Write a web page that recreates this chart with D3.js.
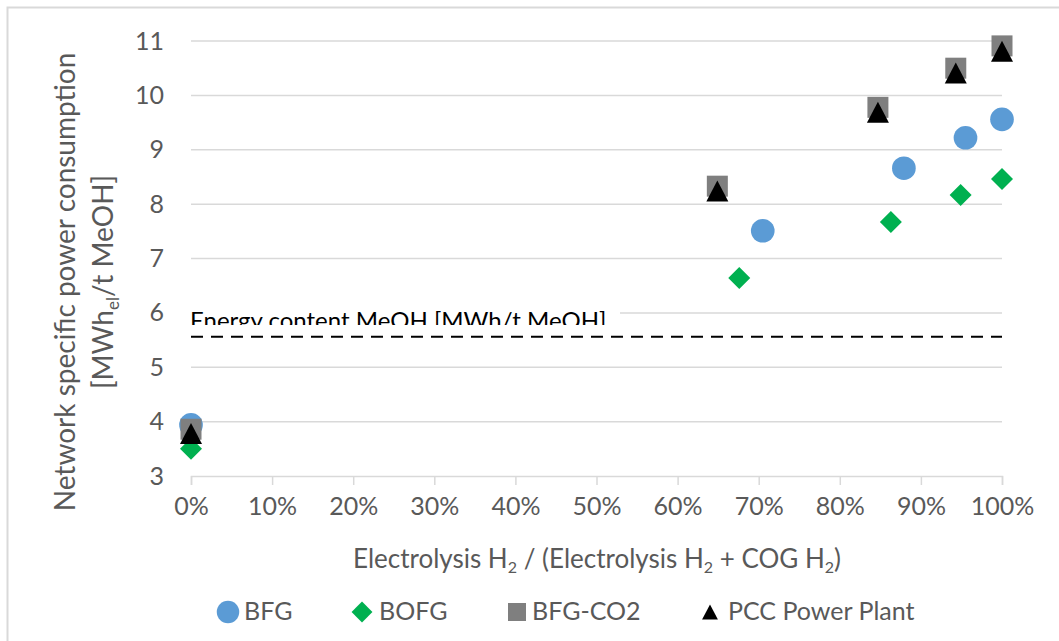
<!DOCTYPE html>
<html>
<head>
<meta charset="utf-8">
<script src="https://cdn.jsdelivr.net/npm/d3@7"></script>
<style>
  body { margin: 0; background: #fff; }
  svg { display: block; font-family: Lato, "Open Sans", sans-serif; }
</style>
</head>
<body>
<svg id="chart" width="1059" height="641"></svg>
<script>
// shares of electrolysis H2 (%), one array per series
var bfgX = [0, 70.5, 87.9, 95.5, 100];
var bfgY = [3.94, 7.51, 8.66, 9.22, 9.56];
var bofgX = [0, 67.6, 86.3, 94.9, 100];
var bofgY = [3.50, 6.64, 7.67, 8.17, 8.46];
var co2X = [0, 64.9, 84.7, 94.3, 100];
var co2Y = [3.86, 8.33, 9.78, 10.50, 10.91];
var pccX = [0, 64.9, 84.7, 94.3, 100];
var pccY = [3.78, 8.24, 9.69, 10.41, 10.81];
var energyContent = 5.56;
var xTicks = [0, 10, 20, 30, 40, 50, 60, 70, 80, 90, 100];
var yTicks = [3, 4, 5, 6, 7, 8, 9, 10, 11];

var svg = d3.select("#chart");

// outer frame (only top and left edges are in view)
svg.append("rect")
    .attr("x", 7.5).attr("y", 7.5)
    .attr("width", 1100).attr("height", 700)
    .attr("fill", "none")
    .attr("stroke", "#d9d9d9")
    .attr("stroke-width", 2);

var x = d3.scaleLinear().domain([0, 100]).range([191, 1002]);
var y = d3.scaleLinear().domain([3, 11]).range([476, 41]);

// gridlines
svg.append("g")
  .selectAll("line")
  .data(yTicks.slice(1))
  .enter().append("line")
    .attr("x1", x(0)).attr("x2", x(100))
    .attr("y1", function(d) { return y(d); })
    .attr("y2", function(d) { return y(d); })
    .attr("stroke", "#d9d9d9")
    .attr("stroke-width", 1.5);

// bottom axis
var xAxis = d3.axisBottom(x)
    .tickValues(xTicks)
    .tickSize(9)
    .tickPadding(12)
    .tickFormat(function(d) { return d + "%"; });
var gx = svg.append("g")
    .attr("transform", "translate(0," + y(3) + ")")
    .call(xAxis);
gx.select(".domain").attr("stroke", "#d9d9d9").attr("stroke-width", 1.5);
gx.selectAll(".tick line").attr("stroke", "#d9d9d9").attr("stroke-width", 1.5);
gx.selectAll(".tick text")
    .attr("fill", "#595959")
    .style("font-size", "25px")
    .style("font-family", "Lato");

// left axis, labels only
var yAxis = d3.axisLeft(y).tickValues(yTicks).tickSize(0).tickPadding(27);
var gy = svg.append("g")
    .attr("transform", "translate(" + x(0) + ",0)")
    .call(yAxis);
gy.select(".domain").remove();
gy.selectAll(".tick text")
    .attr("fill", "#595959")
    .style("font-size", "25px")
    .style("font-family", "Lato");

// energy content reference line + clipped text box
svg.append("rect")
    .attr("x", 188).attr("y", 300)
    .attr("width", 432).attr("height", 25)
    .attr("fill", "#fff");
svg.append("clipPath").attr("id", "lblclip")
  .append("rect")
    .attr("x", 188).attr("y", 295)
    .attr("width", 440).attr("height", 30);
svg.append("text")
    .attr("clip-path", "url(#lblclip)")
    .attr("x", 190).attr("y", 329)
    .attr("fill", "#000")
    .style("font-size", "24px")
    .text("Energy content MeOH [MWh/t MeOH]");
svg.append("line")
    .attr("x1", x(0)).attr("x2", x(100))
    .attr("y1", y(energyContent)).attr("y2", y(energyContent))
    .attr("stroke", "#000")
    .attr("stroke-width", 2)
    .attr("stroke-dasharray", "12,8");

// axis titles
var yt = svg.append("text")
    .attr("transform", "translate(75,282) rotate(-90)")
    .attr("text-anchor", "middle")
    .attr("fill", "#595959")
    .style("font-size", "28px");
yt.append("tspan").attr("x", 0).attr("y", 0).text("Network specific power consumption");
var yt2 = yt.append("tspan").attr("x", 0).attr("y", 38);
yt2.append("tspan").text("[MWh");
yt2.append("tspan").attr("dy", 6).style("font-size", "17px").text("el");
yt2.append("tspan").attr("dy", -6).text("/t MeOH]");

var xt = svg.append("text")
    .attr("x", 597).attr("y", 568)
    .attr("text-anchor", "middle")
    .attr("fill", "#595959")
    .style("font-size", "26px");
xt.append("tspan").text("Electrolysis H");
xt.append("tspan").attr("dy", 5).style("font-size", "16px").text("2");
xt.append("tspan").attr("dy", -5).text(" / (Electrolysis H");
xt.append("tspan").attr("dy", 5).style("font-size", "16px").text("2");
xt.append("tspan").attr("dy", -5).text(" + COG H");
xt.append("tspan").attr("dy", 5).style("font-size", "16px").text("2");
xt.append("tspan").attr("dy", -5).text(")");

// series
var series = [
  { name: "BFG", xs: bfgX, ys: bfgY, shape: d3.symbolCircle, size: 440, color: "#5b9bd5", lx: 228, tx: 244 },
  { name: "BOFG", xs: bofgX, ys: bofgY, shape: d3.symbolDiamond, size: 0, color: "#00b050", lx: 362, tx: 379 },
  { name: "BFG-CO2", xs: co2X, ys: co2Y, shape: d3.symbolSquare, size: 441, color: "#7f7f7f", lx: 517, tx: 532 },
  { name: "PCC Power Plant", xs: pccX, ys: pccY, shape: d3.symbolTriangle, size: 200, color: "#000", lx: 710, tx: 728 }
];

function diamondPath(r) {
  return "M0," + (-r) + "L" + r + ",0L0," + r + "L" + (-r) + ",0Z";
}
function trianglePath(w, h) {
  return "M0," + (-h / 2) + "L" + (w / 2) + "," + (h / 2) + "L" + (-w / 2) + "," + (h / 2) + "Z";
}
function markerPath(s, scale) {
  if (s.name === "BOFG") return diamondPath(11 * scale);
  if (s.name === "PCC Power Plant") return trianglePath(22 * scale, 21 * scale);
  return d3.symbol().type(s.shape).size(s.size * scale * scale)();
}

series.forEach(function(s) {
  svg.append("g")
    .selectAll("path")
    .data(s.xs.map(function(v, i) { return [v, s.ys[i]]; }))
    .enter().append("path")
      .attr("transform", function(d) { return "translate(" + x(d[0]) + "," + y(d[1]) + ")"; })
      .attr("d", markerPath(s, 1))
      .attr("fill", s.color);
});

// legend
var leg = svg.append("g");
series.forEach(function(s) {
  var sc = s.name === "PCC Power Plant" ? 0.72 : (s.name === "BFG-CO2" ? 0.86 : 0.95);
  leg.append("path")
    .attr("transform", "translate(" + s.lx + ",612)")
    .attr("d", markerPath(s, sc))
    .attr("fill", s.color);
  leg.append("text")
    .attr("x", s.tx).attr("y", 620)
    .attr("fill", "#595959")
    .style("font-size", "25px")
    .text(s.name);
});
</script>
</body>
</html>
